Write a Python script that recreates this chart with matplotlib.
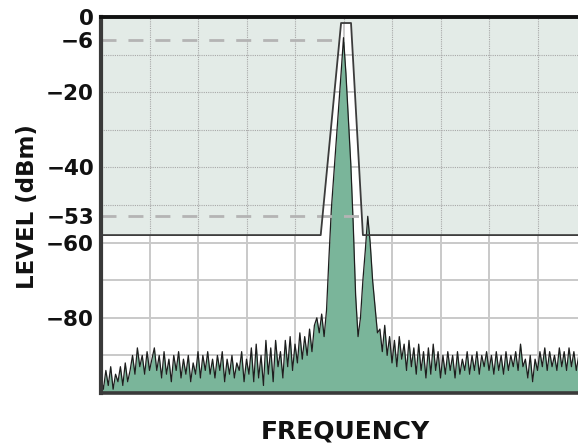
import numpy as np
import matplotlib
matplotlib.use("Agg")
import matplotlib.pyplot as plt

plt.rcParams["font.family"] = ["DejaVu Sans"]

# spectrum trace, one value per frequency bin (20 bins per grid division), dBm
LEVEL = [
    -96, -99, -94, -98, -93, -99, -95, -97, -93, -98,
    -92, -97, -94, -90, -95, -88, -93, -90, -95, -89,
    -94, -91, -88, -94, -90, -96, -89, -95, -91, -97,
    -90, -94, -89, -96, -91, -95, -90, -97, -92, -95,
    -89, -96, -90, -94, -89, -95, -91, -96, -90, -94,
    -89, -97, -91, -95, -90, -96, -92, -94, -89, -97,
    -91, -95, -88, -97, -87, -96, -90, -98, -86, -95,
    -88, -97, -86, -93, -89, -96, -86, -93, -85, -94,
    -87, -92, -84, -91, -85, -90, -83, -89, -82, -80,
    -84, -79, -85,
    # carrier and adjacent spur
    -78, -64, -51, -42, -33, -24, -15, -5.5, -15, -27,
    -39, -55, -74, -85, -80, -70, -62, -53, -60, -70,
    -77, -84,
    # noise floor above the carrier
    -83, -89, -82, -90, -85, -92, -86, -93, -85, -91,
    -87, -94, -86, -93, -88, -95, -87, -94, -89, -96,
    -88, -95, -87, -94, -89, -96, -90, -95, -89, -94,
    -90, -96, -89, -95, -91, -94, -89, -95, -90, -94,
    -89, -95, -90, -93, -89, -94, -90, -95, -89, -94,
    -90, -95, -89, -94, -90, -93, -89, -94, -87, -93,
    -91, -96, -90, -97, -91, -94, -89, -93, -88, -94,
    -89, -93, -90, -94, -88, -93, -89, -94, -88, -93,
    -89, -94, -90,
]

# spectrum mask (bins, dBm)
MASK_X = [0, 90.6, 99.0, 103.1, 108.0, 196.7]
MASK_Y = [-58, -58, -1.6, -1.6, -58, -58]

# dashed reference levels and the bin where each one stops
REF_LEVELS = [-6, -53]
REF_ENDS = [100, 110]

YTICKS = [0, -6, -20, -40, -53, -60, -80]
YTICK_LABELS = ["0", "\u22126", "\u221220", "\u221240", "\u221253", "\u221260", "\u221280"]

GREEN = "#7ab59a"
SHADE = "#e3ebe7"
GRID = "#c9c9c9"
INK = "#111111"
XMAX = 196.7

fig = plt.figure(figsize=(5.78, 4.44), dpi=100)
ax = fig.add_axes([101 / 578, 1 - 393 / 444, 477 / 578, 376 / 444])
ax.set_xlim(0, XMAX)
ax.set_ylim(-100, 0)

# grid: every 20 bins / every 10 dB
ax.set_xticks(np.arange(0, 200, 20))
ax.set_xticklabels([])
ax.set_yticks(YTICKS)
ax.set_yticklabels(YTICK_LABELS, fontsize=15.5, fontweight="bold", color=INK)
ax.tick_params(axis="both", which="both", length=0, pad=5)
ax.grid(False)
for xv in ax.get_xticks()[1:]:
    ax.axvline(xv, color=GRID, lw=1.4, zorder=0.5)
for yv in np.arange(-90, 0, 10):
    ax.axhline(yv, color=GRID, lw=1.4, zorder=0.5)

# shaded region above the mask, with its own dotted grid
shade = ax.fill_between(MASK_X, MASK_Y, 0, color=SHADE, lw=0, zorder=1)
clip = shade.get_paths()[0]
for xv in ax.get_xticks()[1:]:
    ln = ax.axvline(xv, color="#a8a8a8", lw=0.8, ls=(0, (1, 1)), zorder=1.2)
    ln.set_clip_path(clip, ax.transData)
for yv in np.arange(-50, 0, 10):
    ln = ax.axhline(yv, color="#a8a8a8", lw=0.8, ls=(0, (1, 1)), zorder=1.2)
    ln.set_clip_path(clip, ax.transData)

bins = np.arange(len(LEVEL))
ax.fill_between(bins, LEVEL, -100, color=GREEN, lw=0, zorder=2)
ax.plot(bins, LEVEL, color="#1e1e1e", lw=0.9, zorder=2.2)

for lvl, end in zip(REF_LEVELS, REF_ENDS):
    ax.plot([0, end], [lvl, lvl], color="#b4b4b4", lw=2, dashes=(5.4, 4.3), zorder=2.5)

ax.plot(MASK_X, MASK_Y, color="#3c3c3c", lw=1.3, zorder=3)

ax.spines["right"].set_visible(False)
ax.spines["top"].set_color(INK)
ax.spines["top"].set_linewidth(2.8)
ax.spines["left"].set_color("#3a3a3a")
ax.spines["left"].set_linewidth(3)
ax.spines["bottom"].set_color("#3a3a3a")
ax.spines["bottom"].set_linewidth(2.6)

fig.text(28 / 578, 1 - 207 / 444, "LEVEL (dBm)", rotation=90, ha="center", va="center",
         fontsize=16.5, fontweight="bold", color=INK)
fig.text(345 / 578, 1 - 431 / 444, "FREQUENCY", ha="center", va="center",
         fontsize=18, fontweight="bold", color=INK)

fig.savefig("out.png", dpi=100)
